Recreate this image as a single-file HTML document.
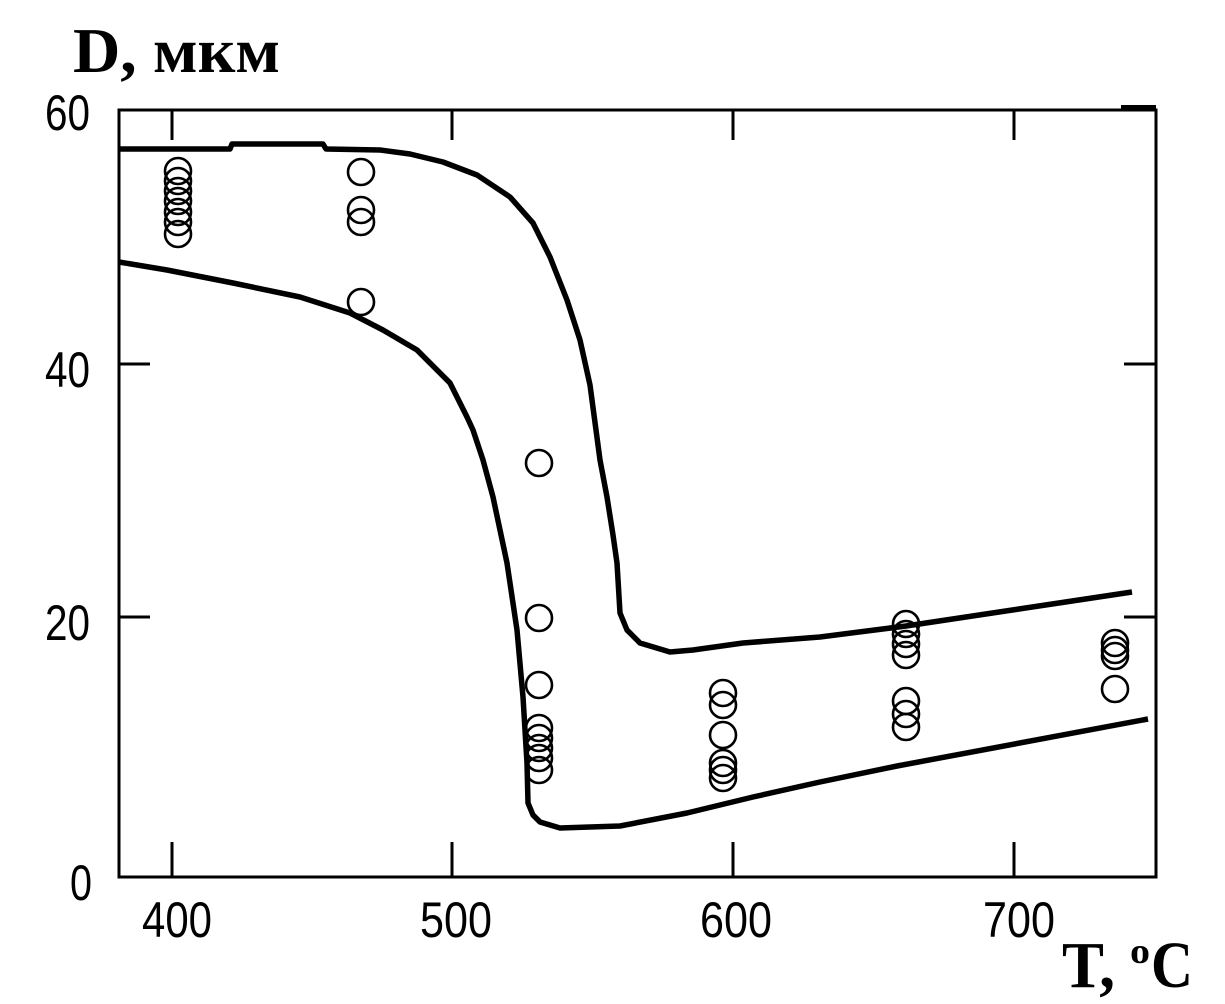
<!DOCTYPE html>
<html>
<head>
<meta charset="utf-8">
<style>
  html, body { margin: 0; padding: 0; background: #fff; }
  body { width: 1225px; height: 1004px; overflow: hidden; }
  svg { display: block; }
</style>
</head>
<body>
<svg width="1225" height="1004" viewBox="0 0 1225 1004" xmlns="http://www.w3.org/2000/svg">
  <rect x="0" y="0" width="1225" height="1004" fill="#fff"/>

  <!-- Title -->
  <text x="73" y="72" font-family="'Liberation Serif', 'Noto Serif CJK SC', serif" font-weight="bold" font-size="63" textLength="207" lengthAdjust="spacingAndGlyphs" fill="#000">D, мкм</text>

  <!-- Frame -->
  <rect x="119" y="110" width="1037" height="767" fill="none" stroke="#000" stroke-width="3"/>
  <rect x="1121" y="105" width="35" height="6" fill="#000"/>

  <!-- Ticks -->
  <g stroke="#000" stroke-width="3">
    <line x1="172" y1="877" x2="172" y2="842"/>
    <line x1="452" y1="877" x2="452" y2="842"/>
    <line x1="733" y1="877" x2="733" y2="842"/>
    <line x1="1014" y1="877" x2="1014" y2="842"/>
    <line x1="172" y1="110" x2="172" y2="140"/>
    <line x1="452" y1="110" x2="452" y2="140"/>
    <line x1="733" y1="110" x2="733" y2="140"/>
    <line x1="1014" y1="110" x2="1014" y2="140"/>
    <line x1="119" y1="364" x2="150" y2="364"/>
    <line x1="119" y1="617" x2="150" y2="617"/>
    <line x1="1156" y1="364" x2="1124" y2="364"/>
    <line x1="1156" y1="617" x2="1124" y2="617"/>
  </g>

  <!-- Tick labels -->
  <g font-family="'Liberation Sans', sans-serif" font-size="50" fill="#000">
    <text x="45" y="130" textLength="45" lengthAdjust="spacingAndGlyphs">60</text>
    <text x="45" y="387" textLength="45" lengthAdjust="spacingAndGlyphs">40</text>
    <text x="45" y="640" textLength="45" lengthAdjust="spacingAndGlyphs">20</text>
    <text x="70" y="900" textLength="22" lengthAdjust="spacingAndGlyphs">0</text>
    <text x="142" y="937" textLength="70" lengthAdjust="spacingAndGlyphs">400</text>
    <text x="420" y="937" textLength="72" lengthAdjust="spacingAndGlyphs">500</text>
    <text x="700" y="937" textLength="72" lengthAdjust="spacingAndGlyphs">600</text>
    <text x="983" y="937" textLength="72" lengthAdjust="spacingAndGlyphs">700</text>
  </g>

  <!-- X axis label -->
  <g font-family="'Liberation Serif', serif" font-weight="bold" fill="#000">
    <text x="1062" y="987" font-size="66" textLength="53" lengthAdjust="spacingAndGlyphs">T,</text>
    <text x="1130" y="963" font-size="36" textLength="20" lengthAdjust="spacingAndGlyphs">o</text>
    <text x="1151" y="987" font-size="66" textLength="42" lengthAdjust="spacingAndGlyphs">C</text>
  </g>

  <!-- Upper curve -->
  <polyline fill="none" stroke="#000" stroke-width="5.5" stroke-linejoin="round" stroke-linecap="butt"
    points="119,149 230,149 232,144 323,144 326,149 380,150 410,154 443,162 477,175 510,197 533,223 550,257 567,300 580,340 590,385 596,430 600,460 607,497 613,535 617,563 620,613 627,630 640,643 670,652 693,650 743,643 820,637 906,626 1132,592"/>

  <!-- Lower curve -->
  <polyline fill="none" stroke="#000" stroke-width="5.5" stroke-linejoin="round" stroke-linecap="butt"
    points="119,262 167,270 233,283 300,297 350,313 383,330 417,350 450,383 467,417 473,430 483,460 493,497 507,563 517,630 523,697 527,763 528,803 533,815 540,822 560,828 620,826 687,813 753,797 820,782 897,766 1148,719"/>

  <!-- Data circles -->
  <g fill="none" stroke="#000" stroke-width="2.6">
    <circle cx="178" cy="171" r="13"/>
    <circle cx="178" cy="181" r="13"/>
    <circle cx="178" cy="191" r="13"/>
    <circle cx="178" cy="201" r="13"/>
    <circle cx="178" cy="212" r="13"/>
    <circle cx="178" cy="222" r="13"/>
    <circle cx="178" cy="234" r="13"/>
    <circle cx="361" cy="172" r="13"/>
    <circle cx="361" cy="210" r="13"/>
    <circle cx="361" cy="222" r="13"/>
    <circle cx="361" cy="302" r="13"/>
    <circle cx="539" cy="463" r="13"/>
    <circle cx="539" cy="618" r="13"/>
    <circle cx="539" cy="685" r="13"/>
    <circle cx="539" cy="728" r="13"/>
    <circle cx="539" cy="738" r="13"/>
    <circle cx="539" cy="748" r="13"/>
    <circle cx="539" cy="758" r="13"/>
    <circle cx="539" cy="770" r="13"/>
    <circle cx="723" cy="693" r="13"/>
    <circle cx="723" cy="705" r="13"/>
    <circle cx="723" cy="735" r="13"/>
    <circle cx="723" cy="763" r="13"/>
    <circle cx="723" cy="770" r="13"/>
    <circle cx="723" cy="778" r="13"/>
    <circle cx="906" cy="624" r="13"/>
    <circle cx="906" cy="634" r="13"/>
    <circle cx="906" cy="644" r="13"/>
    <circle cx="906" cy="655" r="13"/>
    <circle cx="906" cy="701" r="13"/>
    <circle cx="906" cy="714" r="13"/>
    <circle cx="906" cy="727" r="13"/>
    <circle cx="1115" cy="643" r="13"/>
    <circle cx="1115" cy="650" r="13"/>
    <circle cx="1115" cy="656" r="13"/>
    <circle cx="1115" cy="689" r="13"/>
  </g>
</svg>
</body>
</html>
